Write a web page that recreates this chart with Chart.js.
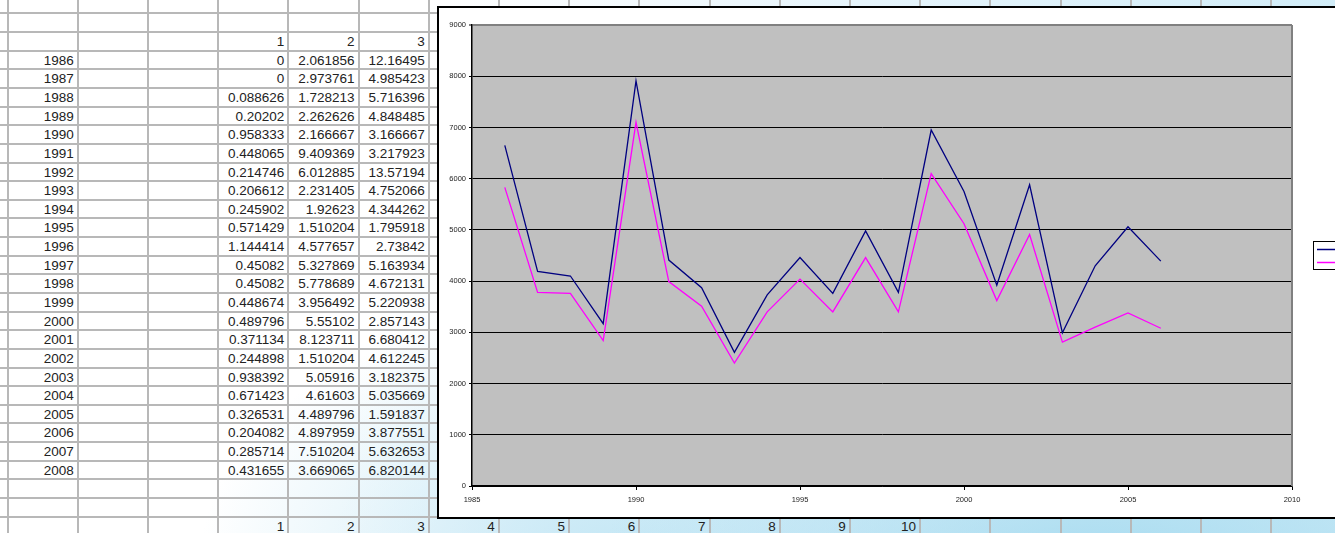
<!DOCTYPE html>
<html>
<head>
<meta charset="utf-8">
<script src="https://cdn.jsdelivr.net/npm/chart.js@4/dist/chart.umd.min.js"></script>
<style>
  html, body { margin: 0; padding: 0; }
  body {
    width: 1335px; height: 533px; overflow: hidden; position: relative;
    font-family: "Liberation Sans", Arial, sans-serif;
    background:
      radial-gradient(ellipse 500px 180px at 1100px 560px, #a9dcf0 0%, rgba(169,220,240,0) 100%),
      radial-gradient(ellipse 420px 260px at 620px 560px, #c4e7f5 0%, rgba(196,231,245,0) 100%),
      linear-gradient(100deg, #ffffff 0%, #ffffff 30%, #e6f4fb 60%, #cdebf7 100%);
  }
  .vl { position: absolute; top: 0; width: 2px; height: 533px; background: #b8b8b8; }
  .hl { position: absolute; left: 0; height: 2px; width: 1335px; background: #b8b8b8; }
  .cell { position: absolute; height: 18px; line-height: 18px; font-size: 13.5px; color: #222;
          text-align: right; white-space: nowrap; }
  #chartBox { position: absolute; left: 437px; top: 6px; width: 920px; height: 509px;
              border: 2px solid #000; background: #fff; }
  #chart { position: absolute; left: 0; top: 0; }
</style>
</head>
<body>
<div id="sheet"></div>
<div id="chartBox"><canvas id="chart" width="896" height="509"></canvas></div>
<script>
// spreadsheet values
const tableYears = ['1986','1987','1988','1989','1990','1991','1992','1993','1994','1995','1996','1997',
    '1998','1999','2000','2001','2002','2003','2004','2005','2006','2007','2008'];
const col1 = ['0','0','0.088626','0.20202','0.958333','0.448065','0.214746','0.206612','0.245902','0.571429',
    '1.144414','0.45082','0.45082','0.448674','0.489796','0.371134','0.244898','0.938392','0.671423',
    '0.326531','0.204082','0.285714','0.431655'];
const col2 = ['2.061856','2.973761','1.728213','2.262626','2.166667','9.409369','6.012885','2.231405',
    '1.92623','1.510204','4.577657','5.327869','5.778689','3.956492','5.55102','8.123711','1.510204',
    '5.05916','4.61603','4.489796','4.897959','7.510204','3.669065'];
const col3 = ['12.16495','4.985423','5.716396','4.848485','3.166667','3.217923','13.57194','4.752066',
    '4.344262','1.795918','2.73842','5.163934','4.672131','5.220938','2.857143','6.680412','4.612245',
    '3.182375','5.035669','1.591837','3.877551','5.632653','6.820144'];
const headerLabels = ['1','2','3'];
const footerLabels = ['1','2','3','4','5','6','7','8','9','10'];

// chart values
const chartYears = [1986,1987,1988,1989,1990,1991,1992,1993,1994,1995,1996,1997,1998,1999,2000,
    2001,2002,2003,2004,2005,2006];
const seriesNavy = [6650,4190,4100,3170,7910,4410,3870,2610,3730,4460,3760,4980,3780,6950,5750,
    3920,5880,2990,4300,5060,4390];
const seriesPink = [5830,3780,3760,2840,7100,3990,3510,2400,3400,4040,3400,4460,3400,6100,5120,
    3620,4910,2810,3100,3380,3080];
const yTicks = [0,1000,2000,3000,4000,5000,6000,7000,8000,9000];

// draw the sheet grid
const sheet = document.getElementById('sheet');
const colW = 70.2, colX0 = 7.5, rowH = 18.64, rowY0 = -5.24;
function rowTop(i) { return rowY0 + rowH * i; }
function colLeft(j) { return colX0 + colW * j; }
for (let j = 0; j < 20; j++) {
    const d = document.createElement('div');
    d.className = 'vl';
    d.style.left = (colLeft(j) - 1) + 'px';
    sheet.appendChild(d);
}
for (let i = 1; i < 30; i++) {
    const d = document.createElement('div');
    d.className = 'hl';
    d.style.top = (rowTop(i) - 1) + 'px';
    sheet.appendChild(d);
}
function putText(i, j, txt) {
    const d = document.createElement('div');
    d.className = 'cell';
    d.textContent = txt;
    d.style.left = colLeft(j) + 'px';
    d.style.width = (colW - 4) + 'px';
    d.style.top = (rowTop(i) + 1) + 'px';
    sheet.appendChild(d);
}
headerLabels.forEach((t, k) => putText(2, 3 + k, t));
tableYears.forEach((y, r) => {
    putText(3 + r, 0, y);
    putText(3 + r, 3, col1[r]);
    putText(3 + r, 4, col2[r]);
    putText(3 + r, 5, col3[r]);
});
footerLabels.forEach((t, k) => putText(28, 3 + k, t));

// plot background + right border + legend
const plotDecor = {
    id: 'plotDecor',
    beforeDraw(chart) {
        const a = chart.chartArea, c = chart.ctx;
        c.save();
        c.fillStyle = '#c0c0c0';
        c.fillRect(a.left, a.top, a.right - a.left, a.bottom - a.top);
        c.restore();
    },
    afterDraw(chart) {
        const a = chart.chartArea, c = chart.ctx;
        c.save();
        c.strokeStyle = '#808080';
        c.lineWidth = 2;
        c.beginPath();
        c.moveTo(a.right, a.top);
        c.lineTo(a.right, a.bottom);
        c.stroke();
        // legend box (labels fall outside the visible area)
        c.strokeStyle = '#000';
        c.lineWidth = 1;
        c.strokeRect(874.5, 233.5, 40, 28);
        chart.data.datasets.forEach((ds, k) => {
            c.strokeStyle = ds.borderColor;
            c.lineWidth = 1.5;
            c.beginPath();
            c.moveTo(878, 241.5 + k * 13);
            c.lineTo(900, 241.5 + k * 13);
            c.stroke();
        });
        c.restore();
    }
};

const tickFont = { family: 'Liberation Sans, Arial, sans-serif', size: 7.5 };

new Chart(document.getElementById('chart'), {
    type: 'line',
    data: {
        datasets: [
            {
                label: 'navy',
                data: chartYears.map((yr, k) => ({ x: yr, y: seriesNavy[k] })),
                borderColor: '#000080',
                borderWidth: 1.3,
                pointRadius: 0,
                tension: 0
            },
            {
                label: 'pink',
                data: chartYears.map((yr, k) => ({ x: yr, y: seriesPink[k] })),
                borderColor: '#ff00ff',
                borderWidth: 1.3,
                pointRadius: 0,
                tension: 0
            }
        ]
    },
    options: {
        responsive: false,
        animation: false,
        layout: { padding: { top: 17, right: 43, left: 0, bottom: 0 } },
        plugins: { legend: { display: false }, tooltip: { enabled: false } },
        scales: {
            x: {
                type: 'linear',
                min: 1985,
                max: 2010,
                afterFit(s) { s.height = 31; },
                ticks: { stepSize: 5, color: '#222', font: tickFont, padding: 5, maxRotation: 0,
                         callback: v => String(v) },
                grid: { drawOnChartArea: false, tickLength: 4, color: '#000' },
                border: { color: '#000', width: 1.5 }
            },
            y: {
                min: 0,
                max: 9000,
                afterFit(s) { s.width = 33; },
                afterBuildTicks(s) { s.ticks = yTicks.map(v => ({ value: v })); },
                ticks: { color: '#222', font: tickFont, padding: 3, callback: v => String(v) },
                grid: {
                    color: ctx => (ctx.tick && ctx.tick.value === 9000 ? '#808080' : '#000'),
                    lineWidth: ctx => (ctx.tick && ctx.tick.value === 9000 ? 2 : 1),
                    tickLength: 3
                },
                border: { color: '#000', width: 1.5 }
            }
        }
    },
    plugins: [plotDecor]
});
</script>
</body>
</html>
